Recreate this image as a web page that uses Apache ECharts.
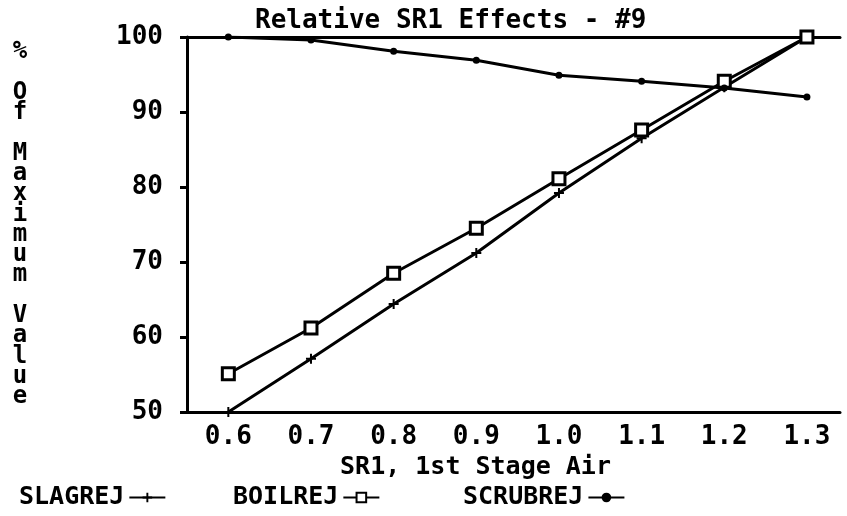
<!DOCTYPE html>
<html>
<head>
<meta charset="utf-8">
<script src="https://cdn.jsdelivr.net/npm/echarts@6/dist/echarts.min.js"></script>
<style>
  html, body { margin: 0; padding: 0; background: #fff; }
  #sr1Chart { width: 847px; height: 516px; }
</style>
</head>
<body>
<div id="sr1Chart"></div>
<script>
// SR1 values on the x axis
var sr1 = [0.6, 0.7, 0.8, 0.9, 1.0, 1.1, 1.2, 1.3]
// % of maximum value
var slagrej = [50, 57.1, 64.4, 71.2, 79.2, 86.5, 93.3, 100]
var boilrej = [55.1, 61.2, 68.5, 74.5, 81.1, 87.6, 94.1, 100]
var scrubrej = [100, 99.6, 98.1, 96.9, 94.9, 94.1, 93.2, 92.0]
var yTicks = [50, 60, 70, 80, 90, 100]

var FONT = 'DejaVu Sans Mono'
var INK = '#000'

function pairs(ys) {
  return sr1.map(function(x, i) { return [x, ys[i]] })
}

function legendAt(name, left) {
  return {
    data: [name],
    left: left,
    top: 480,
    align: 'right',
    itemWidth: 36,
    itemHeight: 12,
    textStyle: { fontFamily: FONT, fontWeight: 'bold', fontSize: 25, color: INK }
  }
}

var chart = echarts.init(document.getElementById('sr1Chart'))
chart.setOption({
  backgroundColor: '#fff',
  animation: false,
  title: {
    text: 'Relative SR1 Effects - #9',
    left: 250,
    top: 3,
    textStyle: { fontFamily: FONT, fontWeight: 'bold', fontSize: 26, color: INK }
  },
  legend: [
    legendAt('SLAGREJ', 14),
    legendAt('BOILREJ', 228),
    legendAt('SCRUBREJ', 458)
  ],
  grid: { left: 187, right: 7, top: 37, bottom: 104 },
  xAxis: [{
    type: 'value',
    min: 0.55,
    max: 1.34,
    name: 'SR1, 1st Stage Air',
    nameLocation: 'middle',
    nameGap: 42,
    nameTextStyle: { fontFamily: FONT, fontWeight: 'bold', fontSize: 25, color: INK, padding: [0, 76, 0, 0] },
    axisLine: { lineStyle: { color: INK, width: 3 } },
    axisTick: { show: false },
    splitLine: { show: false },
    axisLabel: {
      customValues: sr1,
      formatter: function(v) { return v.toFixed(1) },
      margin: 12,
      fontFamily: FONT,
      fontWeight: 'bold',
      fontSize: 26,
      color: INK
    }
  }, {
    type: 'value',
    position: 'top',
    min: 0.55,
    max: 1.34,
    axisLine: { show: true, lineStyle: { color: INK, width: 3 } },
    axisTick: { show: false },
    axisLabel: { show: false },
    splitLine: { show: false }
  }],
  yAxis: {
    type: 'value',
    min: yTicks[0],
    max: yTicks[yTicks.length - 1],
    interval: 10,
    name: '%\n\nO\nf\n\nM\na\nx\ni\nm\nu\nm\n\nV\na\nl\nu\ne',
    nameLocation: 'middle',
    nameRotate: 0,
    nameGap: 167,
    nameTextStyle: { fontFamily: FONT, fontWeight: 'bold', fontSize: 24, lineHeight: 20.3, color: INK, align: 'center' },
    axisLine: { show: true, lineStyle: { color: INK, width: 3 } },
    axisTick: { show: true, length: 7, lineStyle: { color: INK, width: 3 } },
    splitLine: { show: false },
    axisLabel: { margin: 24, fontFamily: FONT, fontWeight: 'bold', fontSize: 26, color: INK }
  },
  series: [
    {
      name: 'SLAGREJ',
      type: 'line',
      data: pairs(slagrej),
      symbol: 'path://M4,0H6V4H10V6H6V10H4V6H0V4H4Z',
      symbolSize: 10,
      lineStyle: { color: INK, width: 3 },
      itemStyle: { color: INK }
    },
    {
      name: 'BOILREJ',
      type: 'line',
      data: pairs(boilrej),
      symbol: 'rect',
      symbolSize: 12,
      lineStyle: { color: INK, width: 3 },
      itemStyle: { color: '#fff', borderColor: INK, borderWidth: 3 }
    },
    {
      name: 'SCRUBREJ',
      type: 'line',
      data: pairs(scrubrej),
      symbol: 'circle',
      symbolSize: 7,
      lineStyle: { color: INK, width: 3 },
      itemStyle: { color: INK }
    }
  ]
})
</script>
</body>
</html>
